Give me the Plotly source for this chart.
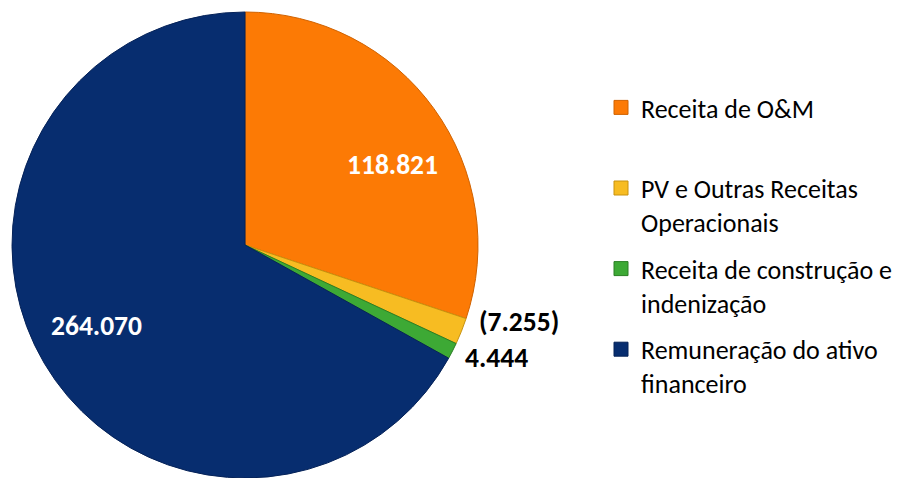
import math
import plotly.graph_objects as go

categories = ["Receita de O&M", "PV e Outras Receitas<br>Operacionais",
              "Receita de construção e<br>indenização", "Remuneração do ativo<br>financeiro"]
values = [118.821, 7.255, 4.444, 264.070]
label_text = ["118.821", "(7.255)", "4.444", "264.070"]

colors = ["#FC7A05", "#F7BC22", "#3DA935", "#072D6F"]
edge_colors = ["#D06200", "#C8920F", "#2A7F24", "#052258"]

FONT = "Carlito, Lato, sans-serif"
W, H = 902, 478
cx_px, cy_px, r_px = 245, 245, 233
dom_x = [(cx_px - r_px) / W, (cx_px + r_px) / W]
dom_y = [(H - cy_px - r_px) / H, (H - cy_px + r_px) / H]

fig = go.Figure()
fig.add_trace(go.Pie(
    labels=categories,
    values=values,
    sort=False,
    direction="clockwise",
    rotation=0,
    textinfo="none",
    hoverinfo="label+value",
    showlegend=False,
    marker=dict(colors=colors, line=dict(color=edge_colors, width=1)),
    domain=dict(x=dom_x, y=dom_y),
))

# legend entries (one group each so the spacing can be set)
for i, (name, c, ec) in enumerate(zip(categories, colors, edge_colors)):
    if "<br>" not in name:
        name = name + "<br> "
    fig.add_trace(go.Scatter(
        x=[None], y=[None], mode="markers", name=name,
        legendgroup=f"g{i}", showlegend=True, hoverinfo="skip",
        marker=dict(symbol="square", size=14, color=c, line=dict(color=ec, width=1)),
    ))

# data labels placed from the slice angles
placement = [(7, 0.72, "white"), (-6, 1.22, "black"), (-3, 1.18, "black"), (2, 0.725, "white")]
total = sum(values)
cum = 0.0
for v, t, (da, rf, col) in zip(values, label_text, placement):
    mid = (cum + v / 2) / total * 360.0
    cum += v
    a = math.radians(mid + da)
    x_px = cx_px + r_px * rf * math.sin(a)
    y_px = cy_px - r_px * rf * math.cos(a)
    fig.add_annotation(x=x_px / W, y=1 - y_px / H, xref="paper", yref="paper",
                       xanchor="center", yanchor="middle",
                       text="<b>" + t + "</b>", showarrow=False,
                       font=dict(size=27.5, color=col, family=FONT))

fig.update_layout(
    width=W, height=H,
    margin=dict(l=0, r=0, t=0, b=0),
    paper_bgcolor="white",
    plot_bgcolor="white",
    xaxis=dict(visible=False),
    yaxis=dict(visible=False),
    font=dict(family=FONT, size=26, color="black"),
    legend=dict(x=601 / W, y=1 - 84 / H, xanchor="left", yanchor="top",
                valign="top", bgcolor="rgba(0,0,0,0)", tracegroupgap=10,
                font=dict(size=26, family=FONT), traceorder="grouped"),
    showlegend=True,
)

fig.write_html("out.html", config={"displayModeBar": False},
               post_script="document.body.style.margin='0';")
